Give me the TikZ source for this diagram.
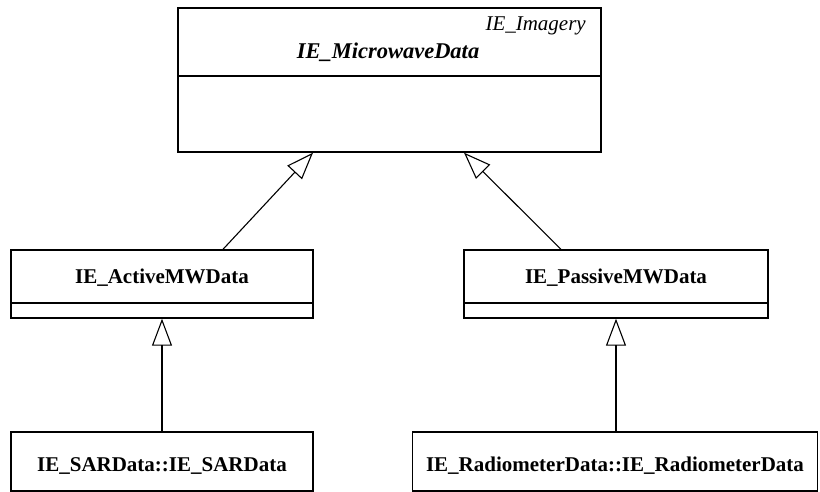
\documentclass[tikz,border=0pt]{standalone}
\usepackage{fontspec}
\setmainfont{Liberation Serif}
\usetikzlibrary{arrows.meta, positioning}

\begin{document}
\begin{tikzpicture}[x=1pt,y=-1pt]
    \tikzstyle{cls}=[shape=rectangle,draw,line width=1.4pt,inner sep=0pt]
    \tikzstyle{title}=[anchor=base,inner sep=0pt,font=\fontsize{21}{24}\selectfont\bfseries]
    \tikzstyle{inherit}=[-{Triangle[open,length=27pt,width=20pt]},line width=1.1pt]

    \useasboundingbox (0,0) rectangle (820,492);

    \node[cls,minimum width=423pt,minimum height=144pt] (Micro) at (389.5,80) {};
    \node[cls,minimum width=302pt,minimum height=68pt] (Active) at (162,284) {};
    \node[cls,minimum width=304pt,minimum height=68pt] (Passive) at (616,284) {};
    \node[cls,minimum width=302pt,minimum height=59pt] (SAR) at (162,461.5) {};
    \node[cls,minimum width=405pt,minimum height=59pt] (Radio) at (615,461.5) {};

    \node[title,anchor=base east,font=\fontsize{21}{24}\selectfont\itshape] (MicroPkg) at (586,31) {IE\_Imagery};
    \node[title,font=\fontsize{22.5}{26}\selectfont\bfseries\itshape] (MicroName) at (388,59) {IE\_MicrowaveData};
    \node[title] (ActiveName) at (162,283) {IE\_ActiveMWData};
    \node[title] (PassiveName) at (616,283) {IE\_PassiveMWData};
    \node[title] (SARName) at (162,471) {IE\_SARData::IE\_SARData};
    \node[title] (RadioName) at (615,471) {IE\_RadiometerData::IE\_RadiometerData};

    % compartments
    \draw[line width=1.4pt] (Micro.west |- 0,76) -- (Micro.east |- 0,76);
    \draw[line width=1.4pt] (Active.west |- 0,303) -- (Active.east |- 0,303);
    \draw[line width=1.4pt] (Passive.west |- 0,303) -- (Passive.east |- 0,303);

    \path[inherit]
    ([xshift=61pt]Active.north) edge ([xshift=-76.5pt]Micro.south)
    ([xshift=-55pt]Passive.north) edge ([xshift=74.5pt]Micro.south)
    (SAR.north) edge (Active.south)
    (Passive.south |- Radio.north) edge (Passive.south)
   ;

\end{tikzpicture}
\end{document}
